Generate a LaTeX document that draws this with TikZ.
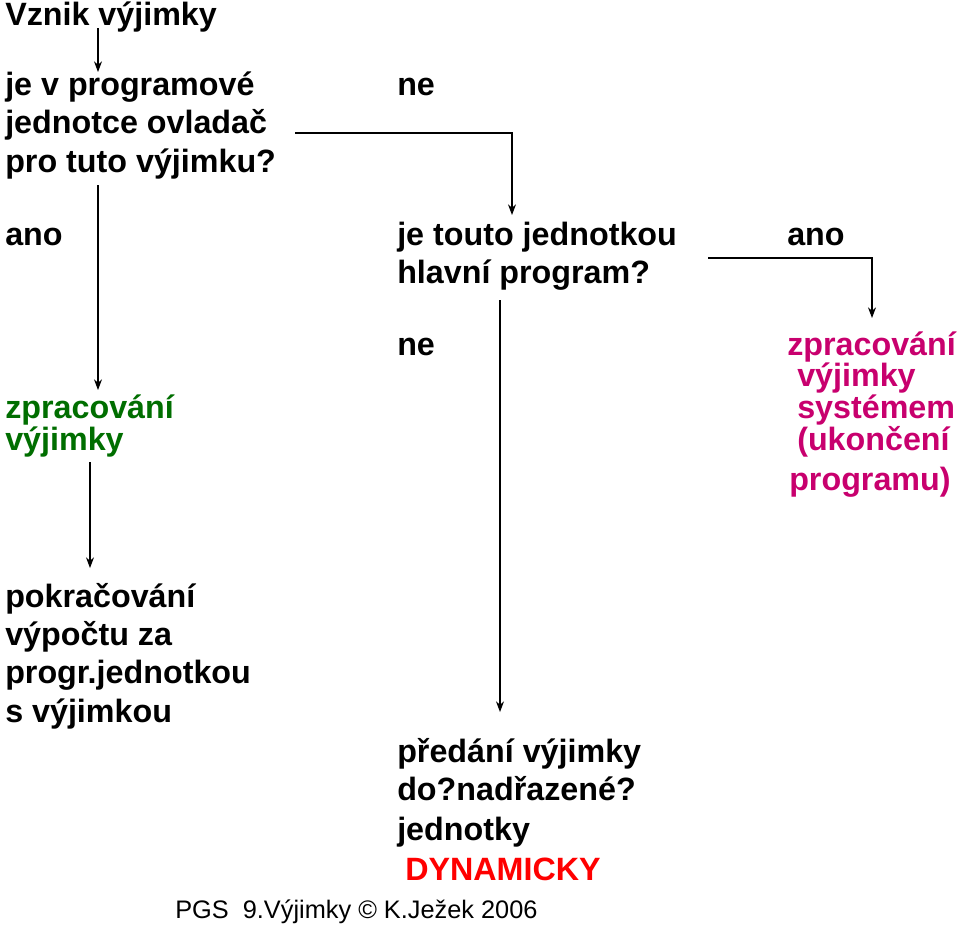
\documentclass[tikz,border=0pt]{standalone}
\usepackage{fontspec}
\setmainfont{Liberation Sans}
\usetikzlibrary{arrows.meta}
\definecolor{grn}{RGB}{0,110,0}
\definecolor{mag}{RGB}{200,0,110}
\tikzset{t/.style={anchor=base west,inner sep=0pt,font=\fontsize{24.2}{28}\selectfont\bfseries},
 ar/.style={-{Stealth[length=8pt,width=6pt]},line width=0.8pt}}
\begin{document}
\begin{tikzpicture}[x=0.75pt,y=-0.75pt]
\useasboundingbox (0,0) rectangle (960,925);
\node[t] (a1) at (5,25) {Vznik výjimky};
\node[t] (b1) at (5,95) {je v programové};
\node[t] (b2) at (5,133) {jednotce ovladač};
\node[t] (b3) at (5,172) {pro tuto výjimku?};
\node[t] (ne1) at (397,95) {ne};
\node[t] (ano1) at (5,245) {ano};
\node[t] (c1) at (397,245) {je touto jednotkou};
\node[t] (c2) at (397,283) {hlavní program?};
\node[t] (ano2) at (787,245) {ano};
\node[t] (ne2) at (397,355) {ne};
\node[t,mag] (m1) at (787,355) {zpracování};
\node[t,mag] (m2) at (797,386) {výjimky};
\node[t,mag] (m3) at (797,418) {systémem};
\node[t,mag] (m4) at (797,450) {(ukončení};
\node[t,mag] (m5) at (789,490) {programu)};
\node[t,grn] (g1) at (5,418) {zpracování};
\node[t,grn] (g2) at (5,450) {výjimky};
\node[t] (p1) at (5,607) {pokračování};
\node[t] (p2) at (5,645) {výpočtu za};
\node[t] (p3) at (5,683) {progr.jednotkou};
\node[t] (p4) at (5,722) {s výjimkou};
\node[t] (d1) at (397,762) {předání výjimky};
\node[t] (d2) at (397,800) {do?nadřazené?};
\node[t] (d3) at (397,840) {jednotky};
\node[t,red] (d4) at (405,880) {DYNAMICKY};
\node[anchor=base west,inner sep=0pt,font=\fontsize{19}{22}\selectfont] (f) at (175,918) {PGS\ \ 9.Výjimky © K.Ježek 2006};
\coordinate (s1) at (98,28); \coordinate (e1) at (98,72);
\coordinate (s2) at (98,185); \coordinate (e2) at (98,390);
\coordinate (s3) at (90,462); \coordinate (e3) at (90,568);
\coordinate (s4) at (295,133); \coordinate (k4) at (512,133); \coordinate (e4) at (512,215);
\coordinate (s5) at (708,258); \coordinate (k5) at (872,258); \coordinate (e5) at (872,318);
\coordinate (s6) at (500,300); \coordinate (e6) at (500,712);
\draw[ar] (s1) -- (e1);
\draw[ar] (s2) -- (e2);
\draw[ar] (s3) -- (e3);
\draw[ar] (s4) -- (k4) -- (e4);
\draw[ar] (s5) -- (k5) -- (e5);
\draw[ar] (s6) -- (e6);
\end{tikzpicture}
\end{document}
